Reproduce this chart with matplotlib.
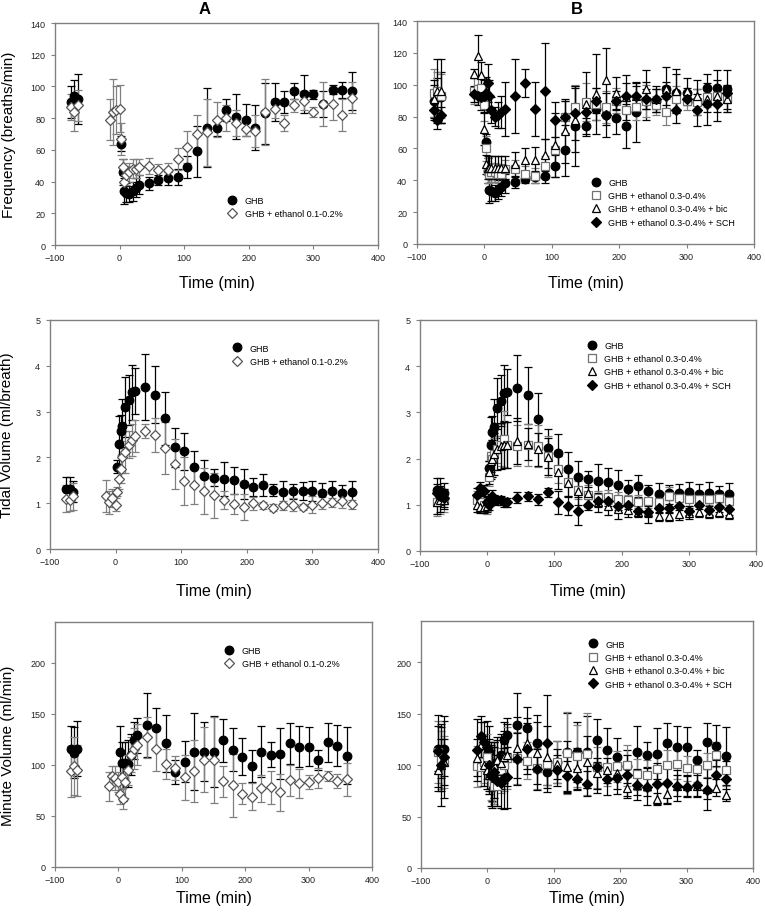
import numpy as np
import matplotlib
matplotlib.use('Agg')
import matplotlib.pyplot as plt
from matplotlib.lines import Line2D

plt.rcParams['font.family'] = ['Liberation Sans', 'DejaVu Sans']

nan = np.nan

# sample times (min): 3 baseline, 4 pre-dose, 8 early post-dose, then every 15 min
TIME = [-75, -70, -65, -15, -10, -5, 0, 2.5, 5, 7.5, 10, 15, 20, 25, 30,
        45, 60, 75, 90, 105, 120, 135, 150, 165, 180, 195, 210, 225, 240,
        255, 270, 285, 300, 315, 330, 345, 360]

# ---- Frequency (breaths/min)
FREQ_GHB = [90, 94, 92, nan, nan, nan, nan, 64, 46, 34, 33, 32, 34, 36, 38,
            39, 41, 42, 43, 49, 59, 74, 74, 85, 81, 79, 74, 83, 90, 90, 97, 95, 95, 89, 98, 98, 97]
FREQ_GHB_ERR = [10, 10, 16, nan, nan, nan, nan, 5, 8, 8, 6, 5, 6, 6, 6,
                4, 3, 4, 5, 7, 16, 25, 5, 7, 14, 10, 14, 19, 12, 7, 5, 12, 3, 8, 3, 5, 12]
FREQ_LOW = [87, 84, 88, 79, 84, 85, 86, 67, 49, 40, 44, 46, 48, 48, 49,
            50, 47, 47, 54, 62, 70, 71, 79, 80, 77, 73, 72, 84, 86, 77, 88, 91, 84, 89, 89, 82, 93]
FREQ_LOW_ERR = [8, 12, 10, 13, 21, 15, 15, 10, 5, 6, 6, 6, 6, 6, 5,
                5, 4, 5, 7, 10, 12, 21, 11, 8, 8, 4, 10, 21, 6, 5, 4, 6, 3, 14, 10, 10, 10]
FREQ_HIGH = [95, 96, 93, 96, 97, 98, 87, 60, 46, 44, 45, 45, 44, 44, 47,
             47, 44, 43, 49, 59, 80, 86, 89, 88, 86, 90, 84, 86, 90, 87, 83, 91, 90, 89, 92, 93, 91]
FREQ_HIGH_ERR = [15, 12, 14, 8, 8, 6, 10, 8, 8, 6, 6, 6, 6, 6, 6,
                 6, 5, 5, 6, 8, 10, 14, 12, 10, 10, 8, 10, 8, 10, 6, 8, 8, 6, 8, 6, 6, 8]
FREQ_BIC = [91, 96, 96, 107, 118, 106, 72, 50, 48, 48, 48, 48, 48, 48, 48,
            50, 53, 53, 56, 62, 71, 78, 88, 94, 103, 95, 92, 93, 97, 91, 97, 96, 96, 93, 91, 93, 91]
FREQ_BIC_ERR = [12, 20, 20, 3, 13, 8, 10, 6, 7, 7, 7, 7, 7, 7, 7,
                8, 7, 8, 10, 20, 20, 20, 20, 25, 20, 10, 14, 8, 12, 8, 14, 14, 8, 10, 16, 16, 8]
FREQ_SCH = [84, 78, 81, 94, 93, 92, 93, 95, 101, 93, 84, 80, 81, 83, 85,
            93, 101, 85, 96, 78, 80, 82, 83, 90, 81, 90, 93, 93, 91, 91, 93, 84, 91, 84, 88, 88, 95]
FREQ_SCH_ERR = [6, 6, 5, 5, 6, 8, 10, 10, 12, 10, 8, 6, 8, 10, 17,
                23, 9, 17, 30, 11, 10, 17, 8, 8, 6, 6, 8, 6, 6, 6, 6, 8, 4, 10, 5, 5, 5]

# ---- Tidal volume (ml/breath)
TV_GHB = [1.32, 1.30, 1.25, nan, nan, nan, nan, 1.80, 2.30, 2.58, 2.68, 3.10, 3.25, 3.42, 3.45,
          3.53, 3.37, 2.85, 2.22, 2.13, 1.78, 1.60, 1.56, 1.52, 1.50, 1.42, 1.35, 1.40, 1.29,
          1.24, 1.26, 1.26, 1.27, 1.23, 1.26, 1.23, 1.24]
TV_GHB_ERR = [0.25, 0.28, 0.23, nan, nan, nan, nan, 0.15, 0.6, 0.35, 0.6, 0.65, 0.55, 0.6, 0.5,
              0.72, 0.62, 0.58, 0.42, 0.4, 0.37, 0.35, 0.18, 0.37, 0.3, 0.33, 0.19, 0.24, 0.14,
              0.24, 0.16, 0.2, 0.22, 0.22, 0.23, 0.17, 0.24]
TV_LOW = [1.10, 1.08, 1.15, 1.15, 1.02, 1.12, 0.97, 1.25, 1.52, 1.75, 2.00, 2.12, 2.28, 2.38, 2.47,
          2.57, 2.48, 2.20, 1.86, 1.48, 1.40, 1.27, 1.17, 1.07, 0.98, 0.92, 1.00, 0.95, 0.90,
          0.95, 0.97, 0.92, 0.97, 1.00, 1.02, 1.05, 0.98]
TV_LOW_ERR = [0.3, 0.25, 0.3, 0.35, 0.25, 0.2, 0.15, 0.1, 0.2, 0.3, 0.35, 0.45, 0.3, 0.35, 0.35,
              0.15, 0.37, 0.57, 0.55, 0.52, 0.42, 0.5, 0.5, 0.2, 0.22, 0.28, 0.14, 0.08, 0.08,
              0.1, 0.14, 0.07, 0.18, 0.13, 0.1, 0.16, 0.1]
TV_HIGH = [1.05, 1.10, 1.10, 1.10, 1.05, 1.00, 0.95, 1.60, 2.05, 2.00, 2.10, 2.20, 2.30, 2.42, 2.30,
           2.28, 2.30, 2.27, 2.05, 1.78, 1.50, 1.32, 1.22, 1.14, 1.17, 1.12, 1.10, 1.07, 1.08,
           1.06, 1.18, 1.15, 1.12, 1.12, 1.12, 1.15, 1.08]
TV_HIGH_ERR = [0.3, 0.3, 0.25, 0.2, 0.2, 0.15, 0.15, 0.2, 0.3, 0.4, 0.35, 0.3, 0.45, 0.6, 0.5,
               0.45, 0.45, 0.45, 0.45, 0.3, 0.3, 0.2, 0.2, 0.15, 0.15, 0.15, 0.12, 0.15, 0.15,
               0.15, 0.2, 0.15, 0.15, 0.15, 0.12, 0.15, 0.15]
TV_BIC = [1.05, 1.10, 1.10, 1.00, 0.95, 0.95, 0.97, 1.70, 1.95, 2.00, 2.10, 2.20, 2.27, 2.30, 2.30,
          2.38, 2.32, 2.20, 2.04, 1.70, 1.47, 1.30, 1.25, 1.05, 0.97, 0.90, 0.88, 0.85, 0.85,
          0.75, 0.75, 0.80, 0.82, 0.85, 0.82, 0.85, 0.80]
TV_BIC_ERR = [0.25, 0.25, 0.2, 0.15, 0.12, 0.12, 0.12, 0.25, 0.4, 0.4, 0.45, 0.45, 0.5, 0.5, 0.5,
              0.5, 0.35, 0.35, 0.4, 0.35, 0.3, 0.3, 0.3, 0.2, 0.2, 0.2, 0.15, 0.12, 0.12,
              0.1, 0.1, 0.12, 0.12, 0.12, 0.1, 0.12, 0.1]
TV_SCH = [1.25, 1.20, 1.15, 1.22, 1.37, 1.30, 1.05, 1.00, 1.12, 1.20, 1.12, 1.10, 1.10, 1.05, 1.05,
          1.15, 1.18, 1.12, 1.27, 1.05, 0.98, 0.87, 1.00, 1.08, 1.08, 0.98, 1.00, 0.87, 0.85,
          0.92, 0.92, 0.98, 0.87, 1.00, 0.88, 0.95, 0.90]
TV_SCH_ERR = [0.2, 0.2, 0.2, 0.15, 0.12, 0.12, 0.12, 0.12, 0.12, 0.12, 0.1, 0.1, 0.1, 0.1, 0.1,
              0.12, 0.1, 0.12, 0.1, 0.25, 0.2, 0.3, 0.12, 0.12, 0.1, 0.1, 0.1, 0.12, 0.25,
              0.1, 0.1, 0.1, 0.1, 0.1, 0.1, 0.1, 0.12]

# ---- Minute volume (ml/min)
MV_GHB = [116, 112, 116, nan, nan, nan, nan, 113, 102, 85, 102, 101, 110, 124, 129,
          139, 136, 121, 93, 103, 113, 113, 113, 124, 115, 108, 99, 113, 110, 111, 121, 118, 118, 105, 122, 119, 109]
MV_GHB_ERR = [22, 25, 27, nan, nan, nan, nan, 25, 20, 20, 20, 23, 20, 18, 17,
              31, 20, 28, 12, 20, 38, 29, 35, 21, 21, 18, 16, 25, 12, 25, 20, 20, 19, 10, 19, 20, 28]
MV_LOW = [94, 99, 95, 79, 89, 87, 83, 72, 88, 67, 83, 95, 110, 116, 120,
          127, 116, 101, 97, 88, 94, 105, 105, 84, 80, 72, 69, 77, 78, 73, 85, 82, 83, 87, 89, 84, 86]
MV_LOW_ERR = [25, 28, 25, 14, 10, 12, 10, 10, 12, 10, 15, 15, 17, 20, 20,
              20, 22, 15, 12, 22, 30, 32, 42, 15, 31, 10, 13, 13, 16, 18, 15, 14, 7, 10, 5, 7, 16]
MV_HIGH = [113, 105, 103, 99, 98, 103, 108, 92, 88, 84, 80, 80, 95, 100, 107,
           107, 104, 97, 101, 103, 112, 109, 111, 98, 98, 99, 100, 91, 90, 96, 100, 101, 97, 96, 100, 110, 95]
MV_HIGH_ERR = [30, 28, 25, 20, 18, 20, 22, 20, 22, 20, 18, 20, 22, 25, 30,
               25, 18, 20, 20, 20, 40, 30, 40, 20, 18, 15, 20, 15, 15, 15, 15, 15, 12, 12, 12, 12, 15]
MV_BIC = [95, 100, 103, 107, 120, 100, 95, 90, 95, 98, 100, 105, 102, 108, 110,
          117, 121, 112, 108, 101, 98, 97, 103, 92, 95, 92, 78, 81, 80, 67, 72, 80, 80, 80, 77, 78, 71]
MV_BIC_ERR = [20, 25, 22, 18, 22, 20, 18, 18, 20, 20, 22, 22, 25, 25, 30,
              30, 25, 30, 30, 15, 25, 20, 25, 15, 12, 15, 10, 10, 10, 6, 10, 10, 10, 10, 10, 8, 6]
MV_SCH = [114, 100, 108, 115, 128, 122, 118, 100, 90, 88, 93, 85, 83, 87, 88,
          106, 116, 96, 121, 95, 89, 86, 82, 98, 86, 87, 90, 81, 79, 82, 83, 80, 79, 81, 76, 90, 86]
MV_SCH_ERR = [35, 40, 40, 30, 20, 20, 25, 25, 30, 30, 25, 25, 25, 30, 30,
              25, 25, 20, 47, 15, 15, 10, 12, 25, 15, 15, 20, 15, 18, 20, 20, 15, 10, 12, 20, 15, 18]

LABELS = {
    'ghb': 'GHB',
    'low': 'GHB + ethanol 0.1-0.2%',
    'high': 'GHB + ethanol 0.3-0.4%',
    'bic': 'GHB + ethanol 0.3-0.4% + bic',
    'sch': 'GHB + ethanol 0.3-0.4% + SCH',
}

STYLES = {
    'ghb': dict(marker='o', ms=6.2, mfc='black', mec='black', ecolor='black'),
    'low': dict(marker='D', ms=5.6, mfc='white', mec='#555555', ecolor='#808080'),
    'high': dict(marker='s', ms=5.4, mfc='white', mec='#707070', ecolor='#808080'),
    'bic': dict(marker='^', ms=6.2, mfc='white', mec='black', ecolor='black'),
    'sch': dict(marker='D', ms=5.4, mfc='black', mec='black', ecolor='black'),
}

AXIS_COLOR = '#808080'


def draw_panel(ax, series, ylim, yticks, ylabel, leg_anchor, ylabel_x, xlabel_y):
    for key, y, err in series:
        st = STYLES[key]
        ax.errorbar(TIME, y, yerr=err, fmt=st['marker'], ms=st['ms'],
                    mfc=st['mfc'], mec=st['mec'], mew=0.9,
                    ecolor=st['ecolor'], elinewidth=0.9, capsize=3.2,
                    capthick=0.9, linestyle='none', clip_on=False)
    ax.set_xlim(-100, 400)
    ax.set_xticks([-100, 0, 100, 200, 300, 400])
    ax.set_ylim(*ylim)
    ax.set_yticks(yticks)
    for sp in ax.spines.values():
        sp.set_color(AXIS_COLOR)
        sp.set_linewidth(1.0)
    ax.tick_params(direction='out', length=3, width=0.8, color=AXIS_COLOR,
                   labelsize=6.5, labelcolor='#222222', pad=3)
    ax.tick_params(axis='y', pad=4)
    ax.set_xlabel('Time (min)', fontsize=11.5)
    ax.xaxis.set_label_coords(0.5, xlabel_y)
    if ylabel:
        ax.set_ylabel(ylabel, fontsize=11)
        ax.yaxis.set_label_coords(ylabel_x, 0.5)

    handles = []
    for key, _, _ in series:
        st = STYLES[key]
        handles.append(Line2D([], [], linestyle='none', marker=st['marker'],
                              ms=st['ms'], mfc=st['mfc'], mec=st['mec'],
                              mew=0.9, label=LABELS[key]))
    ax.legend(handles=handles, loc='upper left', bbox_to_anchor=leg_anchor,
              frameon=False, fontsize=6.5, handlelength=1.0,
              handletextpad=0.9, labelspacing=0.48, borderpad=0,
              borderaxespad=0)


fig = plt.figure(figsize=(7.65, 9.2), dpi=100)

W, H = 765.0, 920.0


def add_axes(left, top, right, bottom):
    return fig.add_axes([left / W, 1 - bottom / H, (right - left) / W, (bottom - top) / H])


ax_fa = add_axes(55, 24, 378, 246)
ax_fb = add_axes(417, 22, 754, 245)
ax_ta = add_axes(50, 321, 378, 550)
ax_tb = add_axes(420, 321, 756, 552)
ax_ma = add_axes(55, 623, 372, 868)
ax_mb = add_axes(421, 622, 753, 869)

draw_panel(ax_fa,
           [('ghb', FREQ_GHB, FREQ_GHB_ERR), ('low', FREQ_LOW, FREQ_LOW_ERR)],
           (0, 140), range(0, 141, 20), 'Frequency (breaths/min)',
           (0.535, 0.22), -0.12, -0.135)
draw_panel(ax_fb,
           [('ghb', FREQ_GHB, FREQ_GHB_ERR), ('high', FREQ_HIGH, FREQ_HIGH_ERR),
            ('bic', FREQ_BIC, FREQ_BIC_ERR), ('sch', FREQ_SCH, FREQ_SCH_ERR)],
           (0, 140), range(0, 141, 20), None,
           (0.517, 0.297), None, -0.14)
draw_panel(ax_ta,
           [('ghb', TV_GHB, TV_GHB_ERR), ('low', TV_LOW, TV_LOW_ERR)],
           (0, 5), range(0, 6), 'Tidal Volume (ml/breath)',
           (0.556, 0.897), -0.11, -0.148)
draw_panel(ax_tb,
           [('ghb', TV_GHB, TV_GHB_ERR), ('high', TV_HIGH, TV_HIGH_ERR),
            ('bic', TV_BIC, TV_BIC_ERR), ('sch', TV_SCH, TV_SCH_ERR)],
           (0, 5), range(0, 6), None,
           (0.498, 0.91), None, -0.14)
draw_panel(ax_ma,
           [('ghb', MV_GHB, MV_GHB_ERR), ('low', MV_LOW, MV_LOW_ERR)],
           (0, 240), range(0, 201, 50), 'Minute Volume (ml/min)',
           (0.535, 0.902), -0.125, -0.095)
draw_panel(ax_mb,
           [('ghb', MV_GHB, MV_GHB_ERR), ('high', MV_HIGH, MV_HIGH_ERR),
            ('bic', MV_BIC, MV_BIC_ERR), ('sch', MV_SCH, MV_SCH_ERR)],
           (0, 240), range(0, 201, 50), None,
           (0.503, 0.925), None, -0.09)

fig.text(205 / W, 1 - 10 / H, 'A', ha='center', va='center', fontsize=12, fontweight='bold')
fig.text(577 / W, 1 - 10 / H, 'B', ha='center', va='center', fontsize=12, fontweight='bold')

fig.savefig('out.png', dpi=100, facecolor='white')
